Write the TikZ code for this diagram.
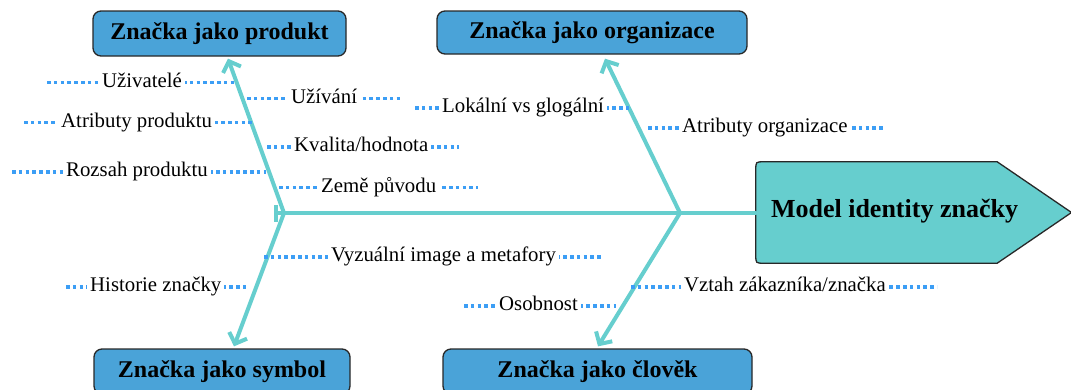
\documentclass[tikz,border=0pt]{standalone}
\usepackage{fontspec}
\setmainfont{Liberation Serif}
\usetikzlibrary{arrows.meta}
\definecolor{boxblue}{RGB}{74,163,216}
\definecolor{teal1}{RGB}{102,206,206}
\definecolor{dotblue}{RGB}{60,158,245}
\definecolor{edge}{RGB}{40,40,40}
\tikzset{
  titlebox/.style={draw=edge, line width=1.3pt, fill=boxblue, rounded corners=8pt,
    inner sep=0pt, font=\bfseries\fontsize{24}{28}\selectfont},
  bone/.style={draw=teal1, line width=4pt, line cap=round},
  dotline/.style={draw=dotblue, line width=3.2pt, dash pattern=on 3.5pt off 3.3pt},
  lbl/.style={fill=white, inner xsep=3pt, inner ysep=0pt, font=\fontsize{20.8}{25}\selectfont},
  tipv/.style={-{Straight Barb[length=9pt,width=19pt]}},
}
\newcommand{\dlab}[6]{%
  \draw[dotline] (#3,#2) -- (#5,#2);
  \node[lbl, anchor=base west] (#1) at (#4-3,#2+4.5) {#6};
}
\begin{document}
\begin{tikzpicture}[x=1pt,y=-1pt]
\useasboundingbox (0,0) rectangle (1071,389);
\clip (0,0) rectangle (1071,389);

% title boxes
\node[titlebox, minimum width=253pt, minimum height=45pt] (produkt) at (219.5,33.5) {Značka jako produkt};
\node[titlebox, minimum width=310pt, minimum height=43pt] (organizace) at (592,32.5) {Značka jako organizace};
\node[titlebox, minimum width=256pt, minimum height=45pt] (symbol) at (222,371.5) {Značka jako symbol};
\node[titlebox, minimum width=309pt, minimum height=45pt] (clovek) at (597.5,371.5) {Značka jako člověk};

% model box
\node[inner sep=0pt, minimum width=241pt, minimum height=101pt] (model) at (876.5,212.5) {};
\draw[draw=edge, line width=1.3pt, fill=teal1]
  ([xshift=8pt]model.north west) -- (model.north east) -- (1071.5,212.5) -- (model.south east)
  -- ([xshift=8pt]model.south west) .. controls (model.south west) .. ([yshift=8pt]model.south west)
  -- ([yshift=-8pt]model.north west) .. controls (model.north west) .. ([xshift=8pt]model.north west) -- cycle;
\node[inner sep=0pt, font=\bfseries\fontsize{26}{30}\selectfont] (modeltext) at (894.5,211) {Model identity značky};

% spine and bones
\coordinate (tick) at (274,213);
\coordinate (jl) at (284,213);
\coordinate (jr) at (680,213);
\draw[bone, {Bar[width=17pt]}-] (tick) -- (model.west |- tick);
\draw[bone, tipv] (jl) -- ([xshift=8.5pt,yshift=-2pt]produkt.south);
\draw[bone, tipv] (jl) -- ([xshift=12pt,yshift=2pt]symbol.north);
\draw[bone, tipv] (jr) -- ([xshift=13pt,yshift=-4pt]organizace.south);
\draw[bone, tipv] (jr) -- ([xshift=0.5pt,yshift=2pt]clovek.north);

% labels
\dlab{l1}{82.5}{47}{102}{237}{Uživatelé}
\dlab{l2}{98.5}{247}{291}{400}{Užívání}
\dlab{l3}{122.5}{24}{61}{252}{Atributy produktu}
\dlab{l4}{147}{267}{294}{459}{Kvalita/hodnota}
\dlab{l5}{172}{12}{66}{266}{Rozsah produktu}
\dlab{l6}{187.5}{279}{321}{478}{Země původu}
\dlab{l7}{108}{415}{442}{631}{Lokální vs glogální}
\dlab{l8}{128}{648}{682}{884}{Atributy organizace}
\dlab{l9}{257}{264}{331}{601}{Vyzuální image a metafory}
\dlab{l10}{287}{66}{90}{247}{Historie značky}
\dlab{l11}{287}{631}{684}{937}{Vztah zákazníka/značka}
\dlab{l12}{306}{464}{499}{616}{Osobnost}
\end{tikzpicture}
\end{document}
